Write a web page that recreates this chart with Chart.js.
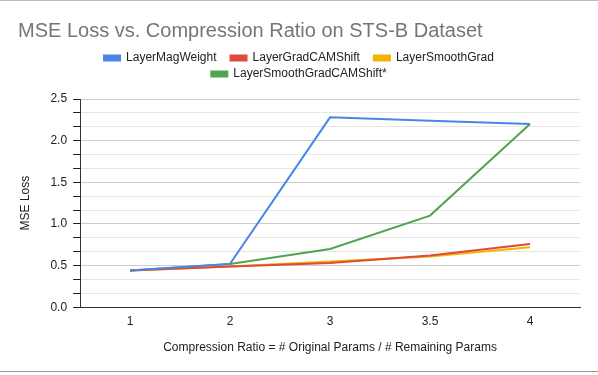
<!DOCTYPE html>
<html lang="en">
<head>
    <meta charset="UTF-8">
    <title>MSE Loss vs. Compression Ratio</title>
    <script src="https://cdn.jsdelivr.net/npm/chart.js"></script>
    <style>
        body { margin: 0; background: #fff; }
        .frame {
            width: 598px;
            height: 372px;
            box-sizing: border-box;
            border-top: 1px solid #bbb;
            border-bottom: 1px solid #999;
        }
        .box { position: relative; width: 598px; height: 370px; }
    </style>
</head>
<body>
    <div class="frame">
        <div class="box"><canvas id="lossChart"></canvas></div>
    </div>
    <script>
        const ratios = ['1', '2', '3', '3.5', '4'];
        const magWeight = [0.44, 0.52, 2.28, 2.24, 2.20];
        const gradCamShift = [0.44, 0.49, 0.53, 0.62, 0.76];
        const smoothGrad = [0.44, 0.49, 0.55, 0.61, 0.72];
        const smoothGradCamShift = [0.44, 0.52, 0.70, 1.10, 2.20];
        const yTicks = [0, 0.5, 1.0, 1.5, 2.0, 2.5];

        const font = "'Liberation Sans', Arial, sans-serif";

        // force the legend to wrap after three items, like the original
        const LegendEl = Chart.registry.getPlugin('legend')._element;
        const origFitRows = LegendEl.prototype._fitRows;
        LegendEl.prototype._fitRows = function (...args) {
            const saved = this.maxWidth;
            this.maxWidth = 470;
            const h = origFitRows.apply(this, args);
            this.maxWidth = saved;
            return h + 9;
        };

        function isMajor(v) {
            return yTicks.some(t => Math.abs(t - v) < 1e-6);
        }

        function series(label, data, color) {
            return {
                label: label,
                data: data,
                borderColor: color,
                backgroundColor: color,
                borderWidth: 2,
                pointRadius: 0,
                tension: 0,
                fill: false
            };
        }

        new Chart(document.getElementById('lossChart'), {
            type: 'line',
            data: {
                labels: ratios,
                datasets: [
                    series('LayerMagWeight', magWeight, '#4a86e8'),
                    series('LayerGradCAMShift', gradCamShift, '#dd4b39'),
                    series('LayerSmoothGrad', smoothGrad, '#f4b400'),
                    series('LayerSmoothGradCAMShift*', smoothGradCamShift, '#51a351')
                ]
            },
            options: {
                responsive: true,
                maintainAspectRatio: false,
                animation: false,
                layout: { padding: { left: 18, right: 18, top: 8, bottom: 12 } },
                plugins: {
                    title: {
                        display: true,
                        text: 'MSE Loss vs. Compression Ratio on STS-B Dataset',
                        align: 'start',
                        color: '#757575',
                        font: { family: font, size: 20, weight: 'normal' },
                        padding: { top: 10, bottom: 5 }
                    },
                    legend: {
                        labels: {
                            boxWidth: 16,
                            boxHeight: 5,
                            padding: 4,
                            color: '#222',
                            font: { family: font, size: 12 },
                            // extra room between entries sharing a row
                            generateLabels: chart => Chart.defaults.plugins.legend.labels
                                .generateLabels(chart)
                                .map((item, i) => i < 2 ? { ...item, text: item.text + '   ' } : item)
                        }
                    },
                    tooltip: { enabled: false }
                },
                scales: {
                    x: {
                        offset: true,
                        grid: { display: false, drawTicks: false },
                        border: { display: true, color: '#333', width: 1 },
                        ticks: { color: '#222', padding: 7, font: { family: font, size: 12 } },
                        title: {
                            display: true,
                            text: 'Compression Ratio = # Original Params / # Remaining Params',
                            color: '#222',
                            font: { family: font, size: 12 },
                            padding: { top: 5, bottom: 4 }
                        }
                    },
                    y: {
                        min: 0,
                        max: 2.5,
                        ticks: {
                            stepSize: 0.5 / 3,
                            autoSkip: false,
                            padding: 6,
                            color: '#222',
                            font: { family: font, size: 12 },
                            callback: v => isMajor(v) ? v.toFixed(1) : ''
                        },
                        grid: {
                            color: c => isMajor(c.tick.value) ? '#cccccc' : '#e6e6e6',
                            tickColor: '#222',
                            tickLength: 7
                        },
                        border: { display: true, color: '#333', width: 1 },
                        title: {
                            display: true,
                            text: 'MSE Loss',
                            color: '#222',
                            font: { family: font, size: 12 },
                            padding: { top: 0, bottom: 12 }
                        }
                    }
                }
            }
        });
    </script>
</body>
</html>
